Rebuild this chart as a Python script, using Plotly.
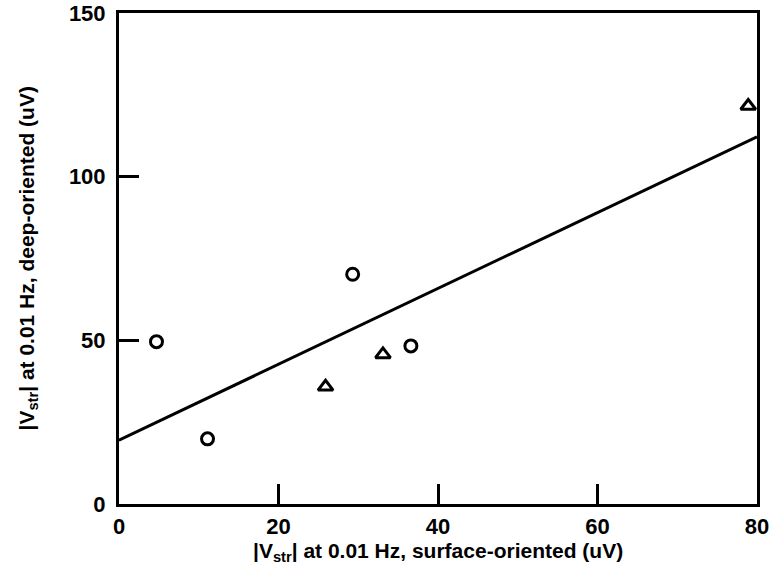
import plotly.graph_objects as go

# Surface-oriented vs deep-oriented |Vstr| at 0.01 Hz (uV)
circle_x = [4.7, 11.1, 29.3, 36.6]
circle_y = [49.6, 19.9, 70.2, 48.3]
triangle_x = [25.9, 33.1, 78.9]
triangle_y = [35.8, 45.7, 121.6]

# Fitted line endpoints
fit_x = [0, 80]
fit_y = [19.5, 112.2]

x_ticks = [0, 20, 40, 60, 80]
y_ticks = [0, 50, 100, 150]

FONT = "Liberation Sans, Arial, Helvetica, sans-serif"

fig = go.Figure()
fig.add_trace(go.Scatter(
    x=fit_x, y=fit_y, mode="lines",
    line=dict(color="black", width=3), showlegend=False, cliponaxis=False,
))
fig.add_trace(go.Scatter(
    x=circle_x, y=circle_y, mode="markers",
    marker=dict(symbol="circle-open", size=12, color="black", line=dict(width=3)),
    showlegend=False, cliponaxis=False,
))
fig.add_trace(go.Scatter(
    x=triangle_x, y=triangle_y, mode="markers",
    marker=dict(symbol="triangle-up-open", size=13, color="black", line=dict(width=3)),
    showlegend=False, cliponaxis=False,
))

axis_common = dict(
    showgrid=False, zeroline=False, showline=True, linecolor="black", linewidth=3,
    mirror=True, ticks="inside", ticklen=20, tickwidth=3, tickcolor="black",
    tickfont=dict(family=FONT, size=22, color="black", weight="bold"),
)

fig.update_xaxes(range=[0, 80], tickvals=x_ticks, ticktext=[str(v) for v in x_ticks],
                 ticklabelstandoff=1, **axis_common)
fig.update_yaxes(range=[0, 150], tickvals=y_ticks, ticktext=[str(v) for v in y_ticks],
                 ticklabelstandoff=6, **axis_common)

MARGIN_B = 63
PLOT_H = 567 - 13 - MARGIN_B

title_font = dict(family=FONT, size=21, color="black", weight="bold")
fig.add_annotation(
    text="|V<sub>str</sub>| at 0.01 Hz, surface-oriented (uV)",
    xref="paper", yref="paper", x=0.5, y=-MARGIN_B / PLOT_H, yshift=1,
    yanchor="bottom", borderpad=0, showarrow=False, font=title_font,
)
fig.add_annotation(
    text="|V<sub>str</sub>| at 0.01 Hz, deep-oriented (uV)",
    xref="paper", yref="paper", x=0, y=0.5, xshift=-92, xanchor="center",
    textangle=-90, borderpad=0, showarrow=False, font=title_font,
)

fig.update_layout(
    width=772, height=567,
    margin=dict(l=119, r=15, t=13, b=MARGIN_B, autoexpand=False),
    paper_bgcolor="white", plot_bgcolor="white",
)

fig.write_html("out.html")
